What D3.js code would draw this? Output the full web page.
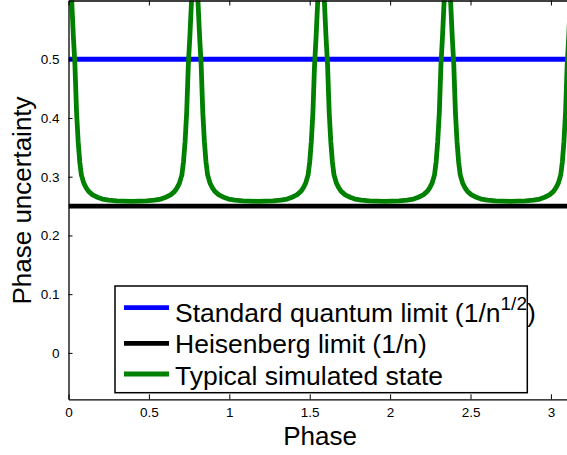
<!DOCTYPE html>
<html>
<head>
<meta charset="utf-8">
<script src="https://cdn.jsdelivr.net/npm/d3@7/dist/d3.min.js"></script>
<style>
  html, body { margin: 0; padding: 0; background: #fff; }
  svg { display: block; font-family: "Liberation Sans", Arial, Helvetica, sans-serif; }
</style>
</head>
<body>
<svg id="chart" width="567" height="455"></svg>
<script>
// Phase axis samples for the simulated state (one valley between each pair of peaks)
const phaseGrid = [
  0.012, 0.020, 0.030, 0.040, 0.050, 0.060, 0.070, 0.080, 0.095, 0.110, 0.125, 0.150, 0.180, 0.210, 0.250, 0.300, 0.393,
  0.485, 0.535, 0.575, 0.605, 0.635, 0.660, 0.675, 0.690, 0.705, 0.715, 0.725, 0.735, 0.745, 0.755, 0.765, 0.773,
  0.785,
  0.797, 0.805, 0.815, 0.825, 0.835, 0.845, 0.855, 0.865, 0.880, 0.895, 0.910, 0.935, 0.965, 0.995, 1.035, 1.085, 1.178,
  1.270, 1.320, 1.360, 1.390, 1.420, 1.445, 1.460, 1.475, 1.490, 1.500, 1.510, 1.520, 1.530, 1.540, 1.550, 1.558,
  1.571,
  1.583, 1.591, 1.601, 1.611, 1.621, 1.631, 1.641, 1.651, 1.666, 1.681, 1.696, 1.721, 1.751, 1.781, 1.821, 1.871, 1.964,
  2.056, 2.106, 2.146, 2.176, 2.206, 2.231, 2.246, 2.261, 2.276, 2.286, 2.296, 2.306, 2.316, 2.326, 2.336, 2.344,
  2.356,
  2.368, 2.376, 2.386, 2.396, 2.406, 2.416, 2.426, 2.436, 2.451, 2.466, 2.481, 2.506, 2.536, 2.566, 2.606, 2.656, 2.749,
  2.841, 2.891, 2.931, 2.961, 2.991, 3.016, 3.031, 3.046, 3.061, 3.071, 3.081, 3.091, 3.101, 3.111, 3.121, 3.129
];

// Phase uncertainty of the typical simulated state at each phase sample
const simulated = [
  0.72, 0.60, 0.54, 0.49, 0.41, 0.36, 0.325, 0.303, 0.289, 0.281, 0.275, 0.269, 0.265, 0.262, 0.260, 0.259, 0.258,
  0.259, 0.260, 0.262, 0.265, 0.269, 0.275, 0.281, 0.289, 0.303, 0.325, 0.36, 0.41, 0.49, 0.54, 0.60, 0.72,
  0.95,
  0.72, 0.60, 0.54, 0.49, 0.41, 0.36, 0.325, 0.303, 0.289, 0.281, 0.275, 0.269, 0.265, 0.262, 0.260, 0.259, 0.258,
  0.259, 0.260, 0.262, 0.265, 0.269, 0.275, 0.281, 0.289, 0.303, 0.325, 0.36, 0.41, 0.49, 0.54, 0.60, 0.72,
  0.95,
  0.72, 0.60, 0.54, 0.49, 0.41, 0.36, 0.325, 0.303, 0.289, 0.281, 0.275, 0.269, 0.265, 0.262, 0.260, 0.259, 0.258,
  0.259, 0.260, 0.262, 0.265, 0.269, 0.275, 0.281, 0.289, 0.303, 0.325, 0.36, 0.41, 0.49, 0.54, 0.60, 0.72,
  0.95,
  0.72, 0.60, 0.54, 0.49, 0.41, 0.36, 0.325, 0.303, 0.289, 0.281, 0.275, 0.269, 0.265, 0.262, 0.260, 0.259, 0.258,
  0.259, 0.260, 0.262, 0.265, 0.269, 0.275, 0.281, 0.289, 0.303, 0.325, 0.36, 0.41, 0.49, 0.54, 0.60, 0.72
];

// Reference limits (constant across phase)
const limitPhases = [0, Math.PI];
const standardQuantumLimit = [0.5, 0.5];
const heisenbergLimit = [0.25, 0.25];

const xTicks = [0, 0.5, 1, 1.5, 2, 2.5, 3];
const xTickLabels = ["0", "0.5", "1", "1.5", "2", "2.5", "3"];
const yTicks = [0, 0.1, 0.2, 0.3, 0.4, 0.5];
const yTickLabels = ["0", "0.1", "0.2", "0.3", "0.4", "0.5"];

const legendLabels = ["Standard quantum limit (1/n", "Heisenberg limit (1/n)", "Typical simulated state"];
const legendColors = ["#0000ff", "#000000", "#008000"];

const svg = d3.select("#chart");
const plot = { left: 68.5, top: 0.5, right: 573.7, bottom: 399.3 };

const x = d3.scaleLinear().domain([0, Math.PI]).range([plot.left, plot.right]);
const y = d3.scaleLinear().domain([-0.079, 0.6]).range([plot.bottom, plot.top]);

svg.append("defs").append("clipPath").attr("id", "plotClip")
  .append("rect")
  .attr("x", plot.left).attr("y", plot.top)
  .attr("width", plot.right - plot.left).attr("height", plot.bottom - plot.top);

const line = d3.line().x(d => x(d[0])).y(d => y(d[1]));

const series = [
  { pts: limitPhases.map((p, i) => [p, standardQuantumLimit[i]]), color: legendColors[0] },
  { pts: limitPhases.map((p, i) => [p, heisenbergLimit[i]]), color: legendColors[1] },
  { pts: phaseGrid.map((p, i) => [p, simulated[i]]), color: legendColors[2] }
];

const lines = svg.append("g").attr("clip-path", "url(#plotClip)");
series.forEach(s => {
  lines.append("path")
    .attr("d", line(s.pts))
    .attr("fill", "none")
    .attr("stroke", s.color)
    .attr("stroke-width", 4.8)
    .attr("stroke-linejoin", "round");
});

// Axes with inward ticks on all four sides
const tickFont = 13.5;
const xAxis = d3.axisBottom(x).tickValues(xTicks).tickFormat((d, i) => xTickLabels[i])
  .tickSizeInner(-5).tickSizeOuter(0).tickPadding(8.5);
const gx = svg.append("g").attr("transform", `translate(0,${plot.bottom})`).call(xAxis);

const xTop = d3.axisTop(x).tickValues(xTicks).tickFormat("").tickSizeInner(-5).tickSizeOuter(0);
const gxt = svg.append("g").attr("transform", `translate(0,${plot.top})`).call(xTop);

const yAxis = d3.axisLeft(y).tickValues(yTicks).tickFormat((d, i) => yTickLabels[i])
  .tickSizeInner(-4).tickSizeOuter(0).tickPadding(9);
const gy = svg.append("g").attr("transform", `translate(${plot.left},0)`).call(yAxis);

[gx, gxt, gy].forEach(g => {
  g.select(".domain").attr("stroke", "#000").attr("stroke-width", 1.3);
  g.selectAll(".tick line").attr("stroke", "#000").attr("stroke-width", 1);
  g.selectAll(".tick text").attr("fill", "#000").style("font-size", tickFont + "px")
    .style("font-family", "'Liberation Sans', Arial, sans-serif");
});

// Axis titles
svg.append("text")
  .attr("x", 320).attr("y", 445)
  .attr("text-anchor", "middle")
  .style("font-size", "26px")
  .text("Phase");

svg.append("text")
  .attr("transform", "translate(31,200.5) rotate(-90)")
  .attr("text-anchor", "middle")
  .style("font-size", "26px")
  .text("Phase uncertainty");

// Legend
const legend = svg.append("g");
legend.append("rect")
  .attr("x", 115).attr("y", 286)
  .attr("width", 412.3).attr("height", 106.7)
  .attr("fill", "#fff").attr("stroke", "#000").attr("stroke-width", 1.5);

const rowY = [307.7, 343.3, 374];
const baseY = [321.5, 353, 384.5];
legendLabels.forEach((lab, i) => {
  legend.append("line")
    .attr("x1", 124).attr("x2", 169)
    .attr("y1", rowY[i]).attr("y2", rowY[i])
    .attr("stroke", legendColors[i]).attr("stroke-width", 4.8);
  const t = legend.append("text")
    .attr("x", 175).attr("y", baseY[i])
    .style("font-size", "26.5px");
  t.append("tspan").text(lab);
  if (i === 0) {
    t.append("tspan").attr("dy", -12).style("font-size", "19px").text("1/2");
    t.append("tspan").attr("dy", 12).text(")");
  }
});
</script>
</body>
</html>
